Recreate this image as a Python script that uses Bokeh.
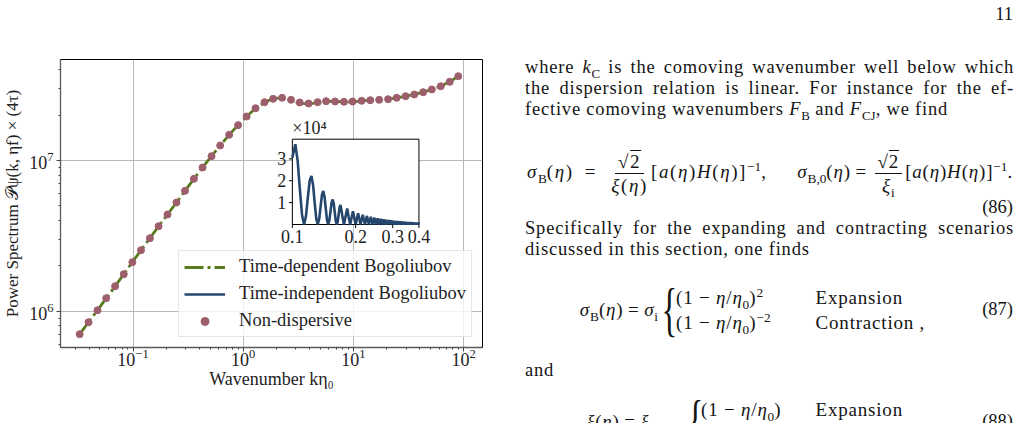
import numpy as np
from bokeh.plotting import figure
from bokeh.models import (Range1d, LogScale, LinearScale, Legend, LegendItem, Div,
                          FixedTicker)
from bokeh.layouts import row
from bokeh.embed import file_html
from bokeh.resources import INLINE
from bokeh.core.properties import value

# ---------------- data ----------------
# Non-dispersive (dots)
k_nd = [0.0328, 0.0395, 0.0476, 0.0571, 0.0688, 0.0824, 0.0986, 0.1181, 0.1423, 0.1705,
        0.2055, 0.2477, 0.2963, 0.3570, 0.4277, 0.5156, 0.6177, 0.7447, 0.8977, 1.073,
        1.294, 1.560, 1.868, 2.252, 2.715, 3.253, 3.921, 4.727, 5.649, 6.812,
        8.210, 9.835, 11.86, 14.21, 17.12, 20.64, 24.68, 29.74, 35.63, 42.95,
        51.45, 62.03, 74.78, 89.40]
p_nd = [7.04e5, 8.45e5, 1.015e6, 1.220e6, 1.465e6, 1.760e6, 2.115e6, 2.540e6, 3.051e6, 3.665e6,
        4.383e6, 5.264e6, 6.294e6, 7.560e6, 8.986e6, 1.068e7, 1.258e7, 1.481e7, 1.715e7, 1.959e7,
        2.223e7, 2.438e7, 2.567e7, 2.607e7, 2.528e7, 2.426e7, 2.389e7, 2.438e7, 2.475e7, 2.464e7,
        2.452e7, 2.464e7, 2.490e7, 2.513e7, 2.528e7, 2.552e7, 2.607e7, 2.671e7, 2.742e7, 2.840e7,
        2.960e7, 3.112e7, 3.328e7, 3.627e7]

# Time-dependent Bogoliubov (green dash-dot line)
k_td = [0.0328, 0.0395, 0.0476, 0.0571, 0.0688, 0.0824, 0.0986, 0.1181, 0.1423, 0.1705,
        0.2055, 0.2477, 0.2963, 0.3570, 0.4277, 0.5156, 0.6177, 0.7447, 0.8977, 1.073,
        1.294, 1.560, 1.868, 2.252, 2.715, 3.253, 3.921, 4.727, 5.649, 6.812,
        8.210, 9.835, 11.86, 14.21, 17.12, 20.64, 24.68, 29.74, 35.63, 42.95,
        51.45, 62.03, 74.78, 89.40, 97.0]
p_td = [7.04e5, 8.45e5, 1.015e6, 1.220e6, 1.465e6, 1.760e6, 2.115e6, 2.540e6, 3.051e6, 3.665e6,
        4.383e6, 5.264e6, 6.294e6, 7.560e6, 8.986e6, 1.068e7, 1.258e7, 1.481e7, 1.715e7, 1.959e7,
        2.223e7, 2.430e7, 2.580e7, 2.600e7, 2.500e7, 2.400e7, 2.370e7, 2.420e7, 2.470e7, 2.480e7,
        2.440e7, 2.450e7, 2.490e7, 2.513e7, 2.528e7, 2.552e7, 2.607e7, 2.671e7, 2.742e7, 2.840e7,
        2.960e7, 3.112e7, 3.328e7, 3.627e7, 3.800e7]

# Time-independent Bogoliubov (inset, blue)
k_ti = [0.1000, 0.1033, 0.1060, 0.1086, 0.1112, 0.1137, 0.1161, 0.1185, 0.1209, 0.1232,
        0.1255, 0.1277, 0.1299, 0.1320, 0.1342, 0.1363, 0.1383, 0.1403, 0.1423, 0.1443,
        0.1462, 0.1481, 0.1500, 0.1519, 0.1537, 0.1556, 0.1574, 0.1592, 0.1609, 0.1627,
        0.1644, 0.1661, 0.1678, 0.1694, 0.1727, 0.1760, 0.1792, 0.1823, 0.1853, 0.1884,
        0.1913, 0.1942, 0.1971, 0.2000, 0.2028, 0.2055, 0.2083, 0.2109, 0.2136, 0.2162,
        0.2188, 0.2214, 0.2239, 0.2264, 0.2289, 0.2313, 0.2338, 0.2362, 0.2385, 0.2409,
        0.2432, 0.2455, 0.2478, 0.2501, 0.2523, 0.2545, 0.2589, 0.2633, 0.2675, 0.2717,
        0.2758, 0.2799, 0.2839, 0.2878, 0.2917, 0.2955, 0.2993, 0.3031, 0.3068, 0.3104,
        0.3140, 0.3176, 0.3211, 0.3246, 0.3281, 0.3315, 0.3349, 0.3382, 0.3416, 0.3448,
        0.3481, 0.3513, 0.3545, 0.3577, 0.3608, 0.3639, 0.3670, 0.3701, 0.3731, 0.3761,
        0.3791, 0.3821, 0.3850, 0.3879, 0.3908, 0.3937, 0.3965, 0.3994, 0.4000]
p_ti = [30500, 36700, 29100, 15900, 4360, 0, 3850, 12390, 20010, 22210,
        18000, 10030, 2800, 0, 2550, 8340, 13640, 15330, 12570, 7080,
        2000, 0, 1850, 6110, 10080, 11420, 9440, 5350, 1520, 0,
        1430, 4740, 7860, 8960, 4240, 0, 3820, 7270, 3470, 0,
        3170, 6070, 2910, 0, 2680, 5170, 2490, 0, 2310, 4470,
        2160, 0, 2020, 3920, 1900, 0, 1790, 3480, 1690, 0,
        1600, 3110, 1520, 0, 1440, 2810, 0, 2550, 0, 2330,
        0, 2140, 0, 1980, 0, 1840, 0, 1710, 0, 1600,
        0, 1490, 0, 1400, 0, 1320, 0, 1250, 0, 1180,
        0, 1120, 0, 1060, 0, 1010, 0, 970, 0, 920,
        0, 880, 0, 840, 0, 810, 0, 780, 700]

# axis ticks
x_major = [0.1, 1, 10, 100]
x_minor = [0.03, 0.04, 0.05, 0.06, 0.07, 0.08, 0.09,
           0.2, 0.3, 0.4, 0.5, 0.6, 0.7, 0.8, 0.9,
           2, 3, 4, 5, 6, 7, 8, 9,
           20, 30, 40, 50, 60, 70, 80, 90]
y_major = [1e6, 1e7]
y_minor = [6e5, 7e5, 8e5, 9e5, 2e6, 3e6, 4e6, 5e6, 6e6, 7e6, 8e6, 9e6, 2e7, 3e7, 4e7]
inset_xticks = [0.1, 0.2, 0.3, 0.4]
inset_xlabels = ["0.1", "0.2", "0.3", "0.4"]
inset_yticks = [10000, 20000, 30000]
inset_ylabels = ["1", "2", "3"]

legend_labels = ["Time-dependent Bogoliubov", "Time-independent Bogoliubov", "Non-dispersive"]

# ---------------- styling / layout ----------------
GREEN = "#587b1d"
BLUE = "#25476d"
MAUVE = "#9e5f6c"
FONT = "'Liberation Serif', serif"

X_RANGE = (0.02197, 148.3)
Y_RANGE = (5.743e5, 4.680e7)
FRAME = dict(left=57, right=482, top=59, bottom=347)
INSET = dict(left=290.5, right=418, top=138.7, bottom=224)
INSET_X = (0.1, 0.4)
INSET_Y = (0, 39000)
FIG_W, FIG_H = 505, 423

p = figure(width=FIG_W, height=FIG_H, x_axis_type="log", y_axis_type="log",
           x_range=Range1d(*X_RANGE), y_range=Range1d(*Y_RANGE),
           output_backend="svg", toolbar_location=None,
           min_border_left=FRAME["left"], min_border_right=FIG_W - FRAME["right"],
           min_border_top=FRAME["top"], min_border_bottom=FIG_H - FRAME["bottom"],
           x_axis_label="Wavenumber kη₀",
           y_axis_label="Power Spectrum 𝒫ψ(k, ηf) × (4τ)")
p.background_fill_color = "white"
p.border_fill_color = "white"
p.outline_line_color = "black"
p.outline_line_width = 1

p.xaxis.ticker = FixedTicker(ticks=x_major, minor_ticks=x_minor)
p.yaxis.ticker = FixedTicker(ticks=y_major, minor_ticks=y_minor)
for ax in (p.xaxis[0], p.yaxis[0]):
    ax.axis_line_color = "#5a5a5a"
    ax.axis_line_width = 1.3
    ax.major_tick_line_color = "#444444"
    ax.minor_tick_line_color = "#444444"
    ax.major_tick_in = 0
    ax.major_tick_out = 4
    ax.minor_tick_in = 0
    ax.minor_tick_out = 2
    ax.major_label_text_font = FONT
    ax.major_label_text_font_size = "18px"
    ax.major_label_text_color = "#222222"
    ax.axis_label_text_font = FONT
    ax.axis_label_text_font_style = "normal"
    ax.axis_label_text_color = "#222222"
p.xaxis[0].axis_label_text_font_size = "18px"
p.yaxis[0].axis_label_text_font_size = "17px"
p.xaxis[0].major_label_standoff = -3
p.xaxis[0].axis_label_standoff = 0
p.yaxis[0].major_label_standoff = 3
p.yaxis[0].axis_label_standoff = 4
for g in (p.xgrid[0], p.ygrid[0]):
    g.grid_line_color = "#b8b8b8"
    g.grid_line_width = 1

# inset coordinate system laid over the main frame
dec_px = (INSET["right"] - INSET["left"]) / np.log10(INSET_X[1] / INSET_X[0])
xs0 = 10 ** (np.log10(INSET_X[0]) - (INSET["left"] - FRAME["left"]) / dec_px)
xs1 = 10 ** (np.log10(INSET_X[1]) + (FRAME["right"] - INSET["right"]) / dec_px)
v_px = (INSET_Y[1] - INSET_Y[0]) / (INSET["bottom"] - INSET["top"])
ys0 = INSET_Y[0] - (FRAME["bottom"] - INSET["bottom"]) * v_px
ys1 = INSET_Y[1] + (INSET["top"] - FRAME["top"]) * v_px
p.extra_x_ranges = {"inset": Range1d(xs0, xs1)}
p.extra_x_scales = {"inset": LogScale()}
p.extra_y_ranges = {"inset": Range1d(ys0, ys1)}
p.extra_y_scales = {"inset": LinearScale()}

# main curves
r_td = p.line(k_td, p_td, line_color=GREEN, line_width=2.8, line_dash="19 4 3 4")
r_nd = p.scatter(k_nd, p_nd, size=7, fill_color=MAUVE, line_color=MAUVE)

# inset
IR = dict(x_range_name="inset", y_range_name="inset")
p.quad(left=[INSET_X[0]], right=[INSET_X[1]], bottom=[INSET_Y[0]], top=[INSET_Y[1]],
       fill_color="white", line_color="black", line_width=1, **IR)
r_ti = p.line(k_ti, p_ti, line_color=BLUE, line_width=2.6, **IR)
TICK = 3.5
xt_end = INSET_X[0] * 10 ** (-TICK / dec_px)
p.segment(x0=[INSET_X[0]] * len(inset_yticks), y0=inset_yticks,
          x1=[xt_end] * len(inset_yticks), y1=inset_yticks,
          line_color="black", line_width=1, **IR)
p.segment(x0=inset_xticks, y0=[INSET_Y[0]] * len(inset_xticks),
          x1=inset_xticks, y1=[INSET_Y[0] - TICK * v_px] * len(inset_xticks),
          line_color="black", line_width=1, **IR)
p.text(x=inset_xticks, y=[INSET_Y[0]] * len(inset_xticks), text=inset_xlabels,
       text_align="center", text_baseline="top", y_offset=5,
       text_font=value(FONT), text_font_size="18px", text_color="#222222", **IR)
p.text(x=[INSET_X[0]] * len(inset_yticks), y=inset_yticks, text=inset_ylabels,
       text_align="right", text_baseline="middle", x_offset=-6,
       text_font=value(FONT), text_font_size="18px", text_color="#222222", **IR)
p.text(x=[INSET_X[0]], y=[INSET_Y[1]], text=["×10⁴"],
       text_align="left", text_baseline="bottom", y_offset=-1,
       text_font=value(FONT), text_font_size="18px", text_color="#222222", **IR)

legend = Legend(items=[LegendItem(label=legend_labels[0], renderers=[r_td]),
                       LegendItem(label=legend_labels[1], renderers=[r_ti]),
                       LegendItem(label=legend_labels[2], renderers=[r_nd])],
                location="bottom_right")
legend.label_text_font = FONT
legend.label_text_font_size = "18.5px"
legend.label_text_color = "#222222"
legend.glyph_width = 41
legend.glyph_height = 20
legend.label_height = 20
legend.label_standoff = 14
legend.spacing = 6
legend.padding = 5
legend.margin = 10
legend.border_line_color = "#cccccc"
legend.border_line_width = 1
legend.background_fill_alpha = 0.8
p.add_layout(legend)

# ---------------- surrounding page text ----------------
page_html = """
<style>
.pg {position:relative;width:516px;height:423px;overflow:hidden;background:#fff;
     font-family:'Liberation Serif',serif;font-size:18.5px;letter-spacing:0.8px;color:#141414;}
.pg div {position:absolute;white-space:nowrap;line-height:21px;}
.pg sub, .pg sup {font-size:70%;line-height:0;letter-spacing:0;}
.pg .j {text-align:justify;text-align-last:justify;width:489px;white-space:normal;}
.pg .eq {font-size:19px;letter-spacing:0.8px;line-height:50px;}
.fr {display:inline-flex;flex-direction:column;align-items:center;vertical-align:middle;line-height:23px;margin:0 3px;}
.fr > span:first-child {border-bottom:1px solid #141414;padding:0 3px;}
.br {font-size:60px;line-height:60px;display:inline-block;transform:scaleX(0.55);font-weight:300;letter-spacing:0;}
.tb {border-collapse:collapse;font-size:19px;letter-spacing:0.8px;line-height:25px;}
.tb td {padding:0;white-space:nowrap;}
</style>
<div class="pg">
 <div style="right:8px;top:4px;letter-spacing:0">11</div>
 <div class="j" style="left:20px;top:57px">where <i>k</i><sub>C</sub> is the comoving wavenumber well below which</div>
 <div class="j" style="left:20px;top:78px">the dispersion relation is linear. For instance for the ef-</div>
 <div style="left:20px;top:99px">fective comoving wavenumbers <i>F</i><sub>B</sub> and <i>F</i><sub>CJ</sub>, we find</div>
 <div class="eq" style="left:22px;top:147px;letter-spacing:1.6px"><i>σ</i><sub>B</sub>(<i>η</i>)&ensp;=&ensp;<span class="fr"><span>√<span style="text-decoration:overline">2</span></span><span><i>ξ</i>(<i>η</i>)</span></span>[<i>a</i>(<i>η</i>)<i>H</i>(<i>η</i>)]<sup>−1</sup>,</div>
 <div class="eq" style="right:8px;top:147px"><i>σ</i><sub>B,0</sub>(<i>η</i>)&thinsp;=&thinsp;<span class="fr"><span>√<span style="text-decoration:overline">2</span></span><span><i>ξ</i><sub>i</sub></span></span>[<i>a</i>(<i>η</i>)<i>H</i>(<i>η</i>)]<sup>−1</sup>.</div>
 <div style="right:8px;top:197px;letter-spacing:0">(86)</div>
 <div class="j" style="left:20px;top:218px">Specifically for the expanding and contracting scenarios</div>
 <div style="left:20px;top:239px">discussed in this section, one finds</div>
 <div class="eq" style="right:363px;top:285px"><i>σ</i><sub>B</sub>(<i>η</i>)&thinsp;=&thinsp;<i>σ</i><sub>i</sub></div>
 <div style="left:150px;top:279px;line-height:60px"><span class="br">{</span></div>
 <div style="left:171px;top:285px"><table class="tb"><tr><td style="padding-right:45px">(1 − <i>η</i>/<i>η</i><sub>0</sub>)<sup>2</sup></td><td>Expansion</td></tr>
   <tr><td style="padding-right:45px">(1 − <i>η</i>/<i>η</i><sub>0</sub>)<sup>−2</sup></td><td>Contraction&nbsp;,</td></tr></table></div>
 <div style="right:8px;top:299px;letter-spacing:0">(87)</div>
 <div style="left:20px;top:360px">and</div>
 <div class="eq" style="right:368px;top:397px"><i>ξ</i>(<i>η</i>)&thinsp;=&thinsp;<i>ξ</i><sub>i</sub></div>
 <div style="left:176px;top:391px;line-height:60px"><span class="br">{</span></div>
 <div style="left:196px;top:397px"><table class="tb"><tr><td style="padding-right:20px">(1 − <i>η</i>/<i>η</i><sub>0</sub>)</td><td>Expansion</td></tr>
   <tr><td style="padding-right:20px">(1 − <i>η</i>/<i>η</i><sub>0</sub>)<sup>−1</sup></td><td>Contraction</td></tr></table></div>
 <div style="right:8px;top:411px;letter-spacing:0">(88)</div>
</div>
"""
page = Div(text=page_html, width=1021 - FIG_W, height=FIG_H, margin=0)

layout = row(p, page, spacing=0)
open("out.html", "w").write(file_html(layout, INLINE))
